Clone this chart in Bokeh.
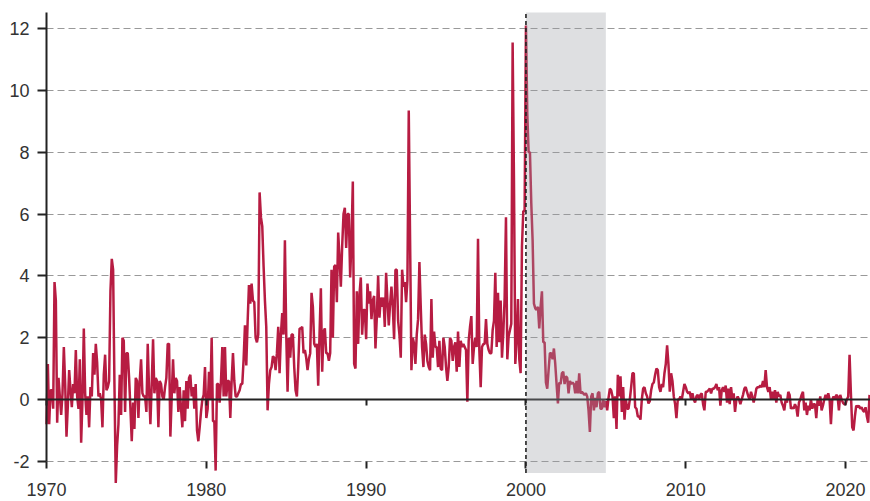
from bokeh.plotting import figure
from bokeh.models import FixedTicker, LinearAxis, BoxAnnotation, Range1d
from bokeh.embed import file_html
from bokeh.resources import INLINE

# Monthly values, January 1970 onwards
values_1970s = [
    -0.8, 1.15, -0.8, 0.3, 0.3, -0.3, 3.8, 3.2, -0.75, 0.7, 0.1, -0.5,
    0.2, 1.7, 0.5, -1.2, -0.2, 0.95, 0.3, -0.25, 0.5, 0.2, 1.6, 0.1,
    -0.3, 1.3, -1.4, 0.0, 2.3, 0.2, -0.5, 0.1, -0.9, 0.4, 0.1, 1.5,
    0.8, 1.8, 1.2, 0.1, 0.2, 0.0, -0.9, 0.8, 1.45, 0.3, 0.4, 0.6,
    3.5, 4.55, 4.2, 0.5, -2.7, -1.5, -0.8, 0.8, -0.5, 2.0, 1.9, -0.4,
    1.5, 1.5, 0.7, -0.3, -1.35, -0.1, -0.95, 0.7, 0.6, -0.6, 0.6, 1.3,
    0.2, 0.1, 0.1, -0.4, 1.8, 0.3, -0.8, 0.5, 1.95, 0.2, 0.7, 0.6,
    -0.9, 0.6, 0.5, 0.1, 0.0, 0.4, 0.7, 1.8, 1.8, -1.2, 0.1, 1.3,
    0.2, 0.7, 0.6, -0.4, 0.4, -0.3, -0.9, 0.3, -0.7, 0.6, -0.3, 0.7,
    0.8, 0.1, 0.4, -0.3, 0.5, -1.0, -1.35, -0.9, -0.4, 0.0, 0.15, 1.05,
]
values_1980s = [
    -0.6, -0.3, 0.9, 0.0, 2.0, -0.7, -0.7, -2.3, 0.5, 0.5, -0.1, 0.6,
    1.7, 0.1, 1.7, 0.1, 0.6, 0.6, -0.6, 0.6, 1.5, 0.6, 0.1, 0.1,
    0.2, 0.3, 0.5, 0.5, 1.3, 2.4, 1.1, 2.5, 3.7, 3.1, 3.75, 3.2,
    3.15, 2.0, 1.85, 2.1, 6.7, 5.9, 5.6, 4.3, 3.2, 2.35, -0.35, 0.5,
    0.95, 1.05, 1.4, 1.35, 0.95, 1.5, 2.35, 0.85, 2.1, 2.8, 2.1, 5.15,
    2.1, 0.25, 2.0, 1.35, 2.1, 2.1, 1.05, 0.3, 0.1, 1.05, 2.3, 2.3,
    2.35, 1.5, 1.6, 1.35, 0.95, 1.3, 1.5, 3.45, 3.0, 1.8, 1.7, 1.8,
    0.45, 2.1, 3.6, 0.9, 2.2, 2.3, 1.5, 1.5, 1.25, 1.5, 4.2, 2.0,
    4.3, 4.35, 3.15, 5.4, 4.6, 3.65, 4.95, 6.0, 6.2, 4.9, 6.0, 6.0,
    3.95, 5.15, 7.05, 1.15, 1.0, 3.5, 1.8, 3.4, 3.95, 2.1, 2.9, 2.9,
]
values_1990s = [
    1.95, 3.75, 3.1, 3.5, 2.6, 3.2, 3.35, 1.65, 2.65, 4.0, 2.65, 3.3,
    3.0, 3.3, 2.35, 4.1, 3.2, 2.4, 3.1, 3.65, 3.0, 1.95, 4.2, 4.2,
    2.55, 2.1, 1.35, 4.2, 3.65, 3.8, 3.15, 3.85, 9.35, 5.15, 0.95, 2.0,
    1.8, 1.15, 2.1, 2.6, 4.45, 3.0, 1.7, 1.05, 2.1, 1.8, 1.25, 1.05,
    0.95, 3.25, 1.35, 2.2, 1.7, 1.7, 1.05, 1.9, 1.0, 0.95, 2.0, 1.7,
    1.05, 0.6, 1.05, 2.0, 1.9, 1.25, 1.7, 1.85, 0.9, 2.2, 1.05, 1.9,
    1.7, 1.8, 1.7, 1.6, -0.07, 1.9, 2.35, 2.7, 1.15, 1.7, 2.0, 1.7,
    5.2, 1.6, 0.4, 1.7, 1.8, 1.8, 2.6, 1.8, 1.6, 1.5, 1.5, 2.25,
    2.55, 4.1, 1.7, 3.45, 1.85, 3.2, 1.35, 2.15, 3.3, 5.9, 1.3, 2.05,
    2.25, 2.45, 11.55, 7.1, 1.15, 1.9, 3.25, 1.3, 0.85, 4.95, 6.1, 6.1,
]
values_2000s = [
    12.1, 9.25, 8.0, 8.0, 6.35, 5.15, 3.1, 2.95, 2.9, 3.0, 2.3, 3.0,
    3.5, 1.85, 1.85, 0.55, 0.35, 0.95, 1.5, 1.5, 1.3, 1.65, 1.15, 0.5,
    -0.13, 0.55, 0.5, 0.85, 0.9, 0.5, 0.75, 0.7, 0.2, 0.6, 0.5, 0.55,
    0.5, 0.2, 0.6, 0.2, 0.85, 0.2, 0.25, 0.2, 0.15, 0.2, 0.1, -0.35,
    -1.05, 0.1, 0.2, -0.35, 0.05, -0.25, 0.2, 0.25, -0.3, -0.3, 0.0, -0.25,
    -0.05, -0.35, 0.05, 0.35, 0.3, 0.1, -0.6, 0.1, -0.95, 0.8, 0.1, 0.75,
    -0.4, 0.4, -0.65, 0.0, -0.3, -0.3, 0.0, 0.4, 0.85, 0.85, -0.25, -0.3,
    -0.55, -0.55, -0.65, 0.0, 0.35, 0.4, 0.2, 0.1, -0.13, -0.05, 0.3, 0.5,
    0.55, 0.8, 1.0, 0.95, 0.4, 0.25, 0.5, 0.4, 0.85, 1.15, 1.75, 1.15,
    0.25, 0.85, 0.6, 0.1, -0.15, -0.6, 0.0, 0.0, 0.1, 0.0, 0.25, 0.5,
]
values_2010s = [
    0.4, 0.25, 0.2, 0.25, 0.0, 0.2, 0.0, -0.1, 0.1, 0.15, 0.0, 0.15,
    0.2, -0.15, -0.35, 0.25, 0.25, 0.3, 0.35, 0.2, 0.35, 0.35, 0.4, 0.5,
    0.3, 0.4, -0.2, 0.3, 0.4, 0.25, 0.45, -0.1, 0.35, -0.15, 0.4, 0.0,
    0.2, -0.4, 0.0, 0.1, 0.0, -0.15, 0.0, 0.15, 0.35, 0.4, 0.25, 0.1,
    0.0, 0.25, 0.1, -0.1, 0.1, 0.35, 0.4, 0.4, 0.45, 0.4, 0.6, 0.4,
    0.95, 0.4, 0.25, 0.4, 0.0, 0.25, 0.0, 0.3, -0.1, 0.25, 0.1, 0.15,
    -0.1, -0.2, -0.35, 0.0, -0.1, 0.25, 0.15, -0.3, -0.25, -0.3, -0.15, -0.25,
    -0.55, -0.1, 0.0, 0.15, 0.25, -0.35, -0.1, -0.5, -0.2, -0.35, 0.0, -0.3,
    -0.15, -0.15, -0.6, 0.0, -0.2, 0.1, -0.35, -0.2, 0.0, 0.15, 0.0, 0.2,
    0.0, -0.8, 0.0, 0.1, 0.0, 0.15, 0.1, -0.35, 0.15, 0.0, -0.1, -0.15,
]
values_2020s = [
    -0.15, 0.0, 0.1, 1.45, 0.2, -0.9, -1.0, -0.55, -0.2, -0.25, -0.2, -0.3,
    -0.25, -0.35, -0.4, -0.25, -0.55, -0.75, 0.15,
]

start_year = 1970
x_ticks = [1970, 1980, 1990, 2000, 2010, 2020]
y_ticks = [-2, 0, 2, 4, 6, 8, 10, 12]
shade_start, shade_end = 2000, 2005
shade_bottom, shade_top = -2.38, 12.52

values = values_1970s + values_1980s + values_1990s + values_2000s + values_2010s + values_2020s
months = [start_year + i / 12 for i in range(len(values))]

X_START, X_END = 1967.12, 2021.56
Y_START, Y_END = -3.30, 12.91

FONT = "Liberation Sans"
INK = "#222222"
LABEL = "#333333"

p = figure(width=870, height=501, output_backend="svg", toolbar_location=None,
           x_range=Range1d(X_START, X_END), y_range=Range1d(Y_START, Y_END),
           min_border=0, min_border_left=0, min_border_right=0,
           min_border_top=0, min_border_bottom=0)
p.outline_line_color = None
p.background_fill_color = "white"
p.border_fill_color = "white"

# horizontal grid (dashed), starting at the y axis
p.xgrid.visible = False
grid = p.ygrid[0]
grid_ticks = [t for t in y_ticks if t != 0]
grid.ticker = FixedTicker(ticks=grid_ticks)
grid.grid_line_color = "#999999"
grid.grid_line_dash = "7 4"
grid.grid_line_width = 1
if "cross_bounds" in grid.properties():
    grid.cross_bounds = (start_year, X_END)
else:
    grid.visible = False
    p.segment(x0=[start_year] * len(grid_ticks), y0=grid_ticks,
              x1=[X_END] * len(grid_ticks), y1=grid_ticks,
              line_color="#999999", line_dash="7 4", line_width=1, level="underlay")

# y axis drawn at 1970
ya = p.yaxis[0]
ya.ticker = FixedTicker(ticks=y_ticks)
ya.fixed_location = start_year
ya.bounds = (-2, shade_top)
ya.axis_line_color = INK
ya.axis_line_width = 2
ya.major_tick_in = 0
ya.major_tick_out = 9
ya.major_tick_line_width = 2
ya.major_tick_line_color = INK
ya.minor_tick_line_color = None
ya.major_label_text_font = FONT
ya.major_label_text_font_size = "18px"
ya.major_label_text_color = LABEL
ya.major_label_standoff = 8
ya.major_label_overrides = {-2: "-2"}

# x axis (labels) at y = -2
xa = p.xaxis[0]
xa.ticker = FixedTicker(ticks=x_ticks)
xa.fixed_location = -2
xa.bounds = (start_year, X_END)
xa.axis_line_color = None
xa.major_tick_in = 0
xa.major_tick_out = 7
xa.major_tick_line_width = 2
xa.major_tick_line_color = INK
xa.minor_tick_line_color = None
xa.major_label_text_font = FONT
xa.major_label_text_font_size = "18px"
xa.major_label_text_color = LABEL
xa.major_label_standoff = 15

# zero line with ticks
za = LinearAxis(ticker=FixedTicker(ticks=x_ticks), fixed_location=0,
                bounds=(start_year, X_END),
                axis_line_color=INK, axis_line_width=2,
                major_tick_in=0, major_tick_out=6, major_tick_line_width=2,
                major_tick_line_color=INK, minor_tick_line_color=None,
                major_label_text_color=None)
p.add_layout(za, "below")

# series
p.line(months, values, line_color="#b71c42", line_width=2.5)

# shaded period
p.add_layout(BoxAnnotation(left=shade_start, right=shade_end, bottom=shade_bottom, top=shade_top,
                           fill_color="#9b9ea4", fill_alpha=0.33, line_color=None))
p.segment(x0=[shade_start], y0=[shade_bottom], x1=[shade_start], y1=[shade_top],
          line_color=INK, line_width=1.6, line_dash="4 3", level="overlay")

open("out.html", "w").write(file_html(p, INLINE))
